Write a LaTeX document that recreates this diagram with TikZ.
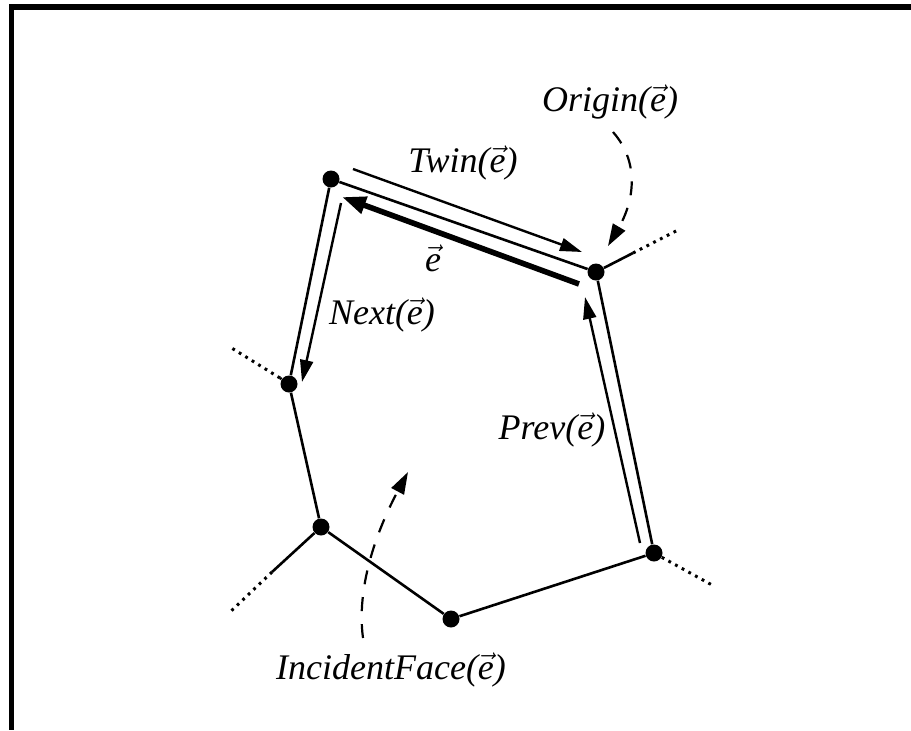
\documentclass[tikz,border=0pt]{standalone}
\usepackage{fontspec}
\setmainfont{Liberation Serif}
\usetikzlibrary{arrows.meta}
\newcommand{\ve}{\ensuremath{\vec{\mbox{\itshape e}}}}
\tikzset{
  vtx/.style={circle,fill=black,inner sep=0pt,minimum size=8.5pt},
  edge/.style={line width=1.3pt},
  half/.style={line width=1.2pt,-{Triangle[length=11pt,width=6.5pt]}},
  thickhalf/.style={line width=2.8pt,-{Triangle[length=12pt,width=8.5pt]}},
  ext/.style={line width=1.3pt},
  dots/.style={line width=1.5pt,dash pattern=on 1.4pt off 2.4pt},
  pointer/.style={line width=1.1pt,dash pattern=on 7pt off 6.5pt,-{Triangle[length=11pt,width=7pt]}},
  lbl/.style={inner sep=0pt,font=\fontsize{18}{21}\selectfont}
}
\begin{document}
\begin{tikzpicture}[x=0.5pt,y=-0.5pt]
\useasboundingbox (0,0) rectangle (911,730);
% frame (top and left)
\fill (9,4) rectangle (911,10);
\fill (9,4) rectangle (14,730);

% vertices
\node[vtx] (v1) at (331,179) {};
\node[vtx] (v2) at (596,272) {};
\node[vtx] (v3) at (289,384) {};
\node[vtx] (v4) at (321,527) {};
\node[vtx] (v5) at (451,619) {};
\node[vtx] (v6) at (654,553) {};

% polygon edges
\draw[edge] (v1) -- (v2);
\draw[edge] (v1) -- (v3);
\draw[edge] (v3) -- (v4);
\draw[edge] (v4) -- (v5);
\draw[edge] (v5) -- (v6);
\draw[edge] (v6) -- (v2);

% outgoing edges
\coordinate (x2a) at (633,253);
\coordinate (x2b) at (678,230);
\draw[ext] (v2) -- (x2a);
\draw[dots] (x2a) -- (x2b);
\coordinate (x3a) at (280,378);
\coordinate (x3b) at (230,347);
\draw[ext] (v3) -- (x3a);
\draw[dots] (x3a) -- (x3b);
\coordinate (x4a) at (272,572);
\coordinate (x4b) at (229,613);
\draw[ext] (v4) -- (x4a);
\draw[dots] (x4a) -- (x4b);
\coordinate (x6b) at (712,585);
\draw[dots] (v6) -- (x6b);

% half-edges
\coordinate (tw1) at (353,169);
\coordinate (tw2) at (582,252);
\draw[half] (tw1) -- (tw2);
\coordinate (e1) at (579,284);
\coordinate (e2) at (342,197);
\draw[thickhalf] (e1) -- (e2);
\coordinate (n1) at (341,203);
\coordinate (n2) at (302,382);
\draw[half] (n1) -- (n2);
\coordinate (p1) at (640,543);
\coordinate (p2) at (585,297);
\draw[half] (p1) -- (p2);

% labels
\node[lbl] (ltwin) at (463,163) {\itshape Twin(\ve)};
\node[lbl] (le) at (433,258) {\ve};
\node[lbl] (lnext) at (382,315) {\itshape Next(\ve)};
\node[lbl] (lprev) at (552,430) {\itshape Prev(\ve)};
\node[lbl] (lorig) at (610,102) {\itshape Origin(\ve)};
\node[lbl] (lface) at (391,670) {\itshape IncidentFace(\ve)};

% dashed pointers
\coordinate (o1) at (613,132);
\coordinate (o2) at (608,246);
\draw[pointer] (o1) .. controls (642,165) and (632,205) .. (o2);
\coordinate (f1) at (363,638);
\coordinate (f2) at (408,472);
\draw[pointer] (f1) .. controls (355,578) and (385,515) .. (f2);
\end{tikzpicture}
\end{document}
